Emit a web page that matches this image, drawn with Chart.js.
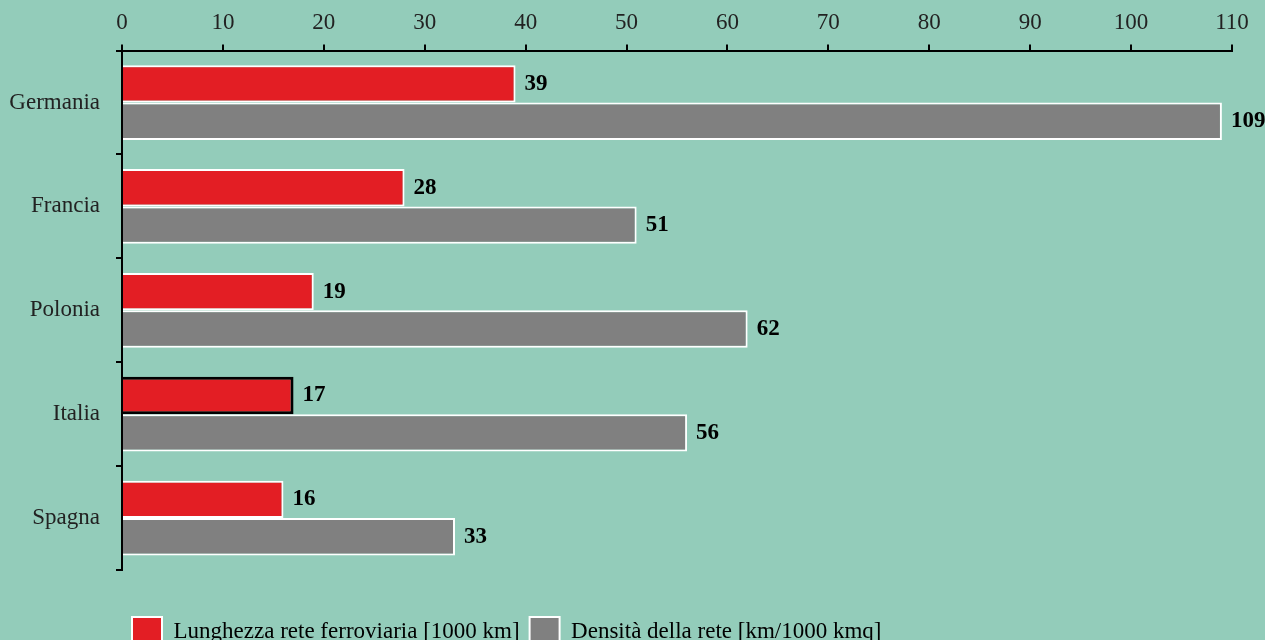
<!DOCTYPE html>
<html lang="it">
<head>
<meta charset="utf-8">
<title>Rete ferroviaria</title>
<script src="https://cdn.jsdelivr.net/npm/chart.js@4.4.1/dist/chart.umd.min.js"></script>
<style>
  html, body { margin: 0; padding: 0; background: #93ccba; overflow: hidden; }
  .chart-container { position: relative; width: 1265px; height: 657px; }
</style>
</head>
<body>
<div class="chart-container"><canvas id="chart"></canvas></div>
<script>
const categories = ['Germania', 'Francia', 'Polonia', 'Italia', 'Spagna'];
const lunghezzaRete = [39, 28, 19, 17, 16];
const densitaRete = [109, 51, 62, 56, 33];
const xTicks = [0, 10, 20, 30, 40, 50, 60, 70, 80, 90, 100, 110];

const SERIF = '"Liberation Serif", "Times New Roman", serif';
const BG = '#93ccba';
const RED = '#e31e24';
const GREY = '#808080';

// Italia is highlighted with a black outline on its red bar
const redBorder = categories.map(c => (c === 'Italia' ? '#000000' : '#ffffff'));
const redBorderWidth = categories.map(c => (c === 'Italia' ? 3 : 2));

const background = {
  id: 'background',
  beforeDraw(chart) {
    const { ctx } = chart;
    ctx.save();
    ctx.fillStyle = BG;
    ctx.fillRect(0, 0, chart.width, chart.height);
    ctx.restore();
  },
};

// value printed just past the end of each bar
const barValues = {
  id: 'barValues',
  afterDatasetsDraw(chart) {
    const { ctx } = chart;
    ctx.save();
    ctx.font = `bold 23px ${SERIF}`;
    ctx.fillStyle = '#000';
    ctx.textAlign = 'left';
    ctx.textBaseline = 'middle';
    chart.data.datasets.forEach((ds, i) => {
      chart.getDatasetMeta(i).data.forEach((bar, j) => {
        ctx.fillText(String(ds.data[j]), bar.x + 9, bar.y);
      });
    });
    ctx.restore();
  },
};

new Chart(document.getElementById('chart'), {
  type: 'bar',
  data: {
    labels: categories,
    datasets: [
      {
        label: 'Lunghezza rete ferroviaria [1000 km]',
        data: lunghezzaRete,
        backgroundColor: RED,
        borderColor: redBorder,
        borderWidth: redBorderWidth,
        borderSkipped: 'start',
      },
      {
        label: 'Densità della rete [km/1000 kmq]',
        data: densitaRete,
        backgroundColor: GREY,
        borderColor: '#ffffff',
        borderWidth: 2,
        borderSkipped: 'start',
      },
    ],
  },
  options: {
    indexAxis: 'y',
    responsive: true,
    maintainAspectRatio: false,
    animation: false,
    categoryPercentage: 0.72,
    barPercentage: 1.0,
    layout: { padding: { top: 1, right: 33, left: 0, bottom: 0 } },
    scales: {
      x: {
        position: 'top',
        min: 0,
        max: 110,
        z: 1,
        afterBuildTicks: (scale) => { scale.ticks = xTicks.map(v => ({ value: v })); },
        ticks: {
          color: '#222',
          padding: 8,
          font: { family: SERIF, size: 23 },
        },
        grid: {
          drawOnChartArea: false,
          drawTicks: true,
          tickLength: 6,
          color: '#000',
          lineWidth: 2,
        },
        border: { display: true, color: '#000', width: 2 },
      },
      y: {
        z: 1,
        afterFit: (scale) => { scale.width = 122; },
        ticks: {
          color: '#222',
          padding: 16,
          font: { family: SERIF, size: 23 },
        },
        grid: {
          offset: true,
          drawOnChartArea: false,
          drawTicks: true,
          tickLength: 6,
          color: '#000',
          lineWidth: 2,
        },
        border: { display: true, color: '#000', width: 2 },
      },
    },
    plugins: {
      tooltip: { enabled: false },
      legend: {
        position: 'bottom',
        align: 'start',
        fullSize: false,
        title: { display: true, text: '', font: { size: 10 }, padding: { top: 12, bottom: 13 } },
        labels: {
          color: '#000',
          boxWidth: 30,
          boxHeight: 30,
          padding: 10,
          font: { family: SERIF, size: 23 },
        },
      },
    },
  },
  plugins: [background, barValues],
});
</script>
</body>
</html>
